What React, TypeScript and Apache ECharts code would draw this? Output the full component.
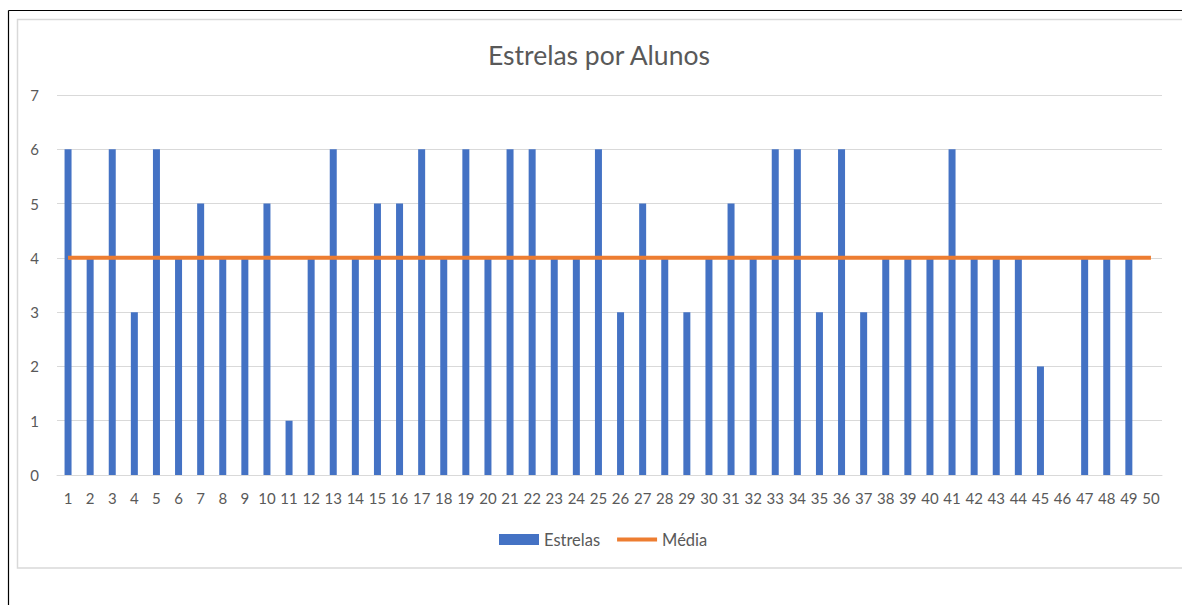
import React, { useEffect, useRef } from "react";
import * as echarts from "echarts";

const categories = [
  "1", "2", "3", "4", "5", "6", "7", "8", "9", "10",
  "11", "12", "13", "14", "15", "16", "17", "18", "19", "20",
  "21", "22", "23", "24", "25", "26", "27", "28", "29", "30",
  "31", "32", "33", "34", "35", "36", "37", "38", "39", "40",
  "41", "42", "43", "44", "45", "46", "47", "48", "49", "50",
];

const estrelas = [
  6, 4, 6, 3, 6, 4, 5, 4, 4, 5,
  1, 4, 6, 4, 5, 5, 6, 4, 6, 4,
  6, 6, 4, 4, 6, 3, 5, 4, 3, 4,
  5, 4, 6, 6, 3, 6, 3, 4, 4, 4,
  6, 4, 4, 4, 2, 0, 4, 4, 4, null,
];

const media = [
  4, 4, 4, 4, 4, 4, 4, 4, 4, 4,
  4, 4, 4, 4, 4, 4, 4, 4, 4, 4,
  4, 4, 4, 4, 4, 4, 4, 4, 4, 4,
  4, 4, 4, 4, 4, 4, 4, 4, 4, 4,
  4, 4, 4, 4, 4, 4, 4, 4, 4, 4,
];

const FONT = "Lato, 'Open Sans', sans-serif";
const TEXT = "#595959";

export default function App() {
  const ref = useRef<HTMLDivElement>(null);

  useEffect(() => {
    document.body.style.margin = "0";
    const chart = echarts.init(ref.current!, undefined, { renderer: "svg" });
    chart.setOption({
      animation: false,
      backgroundColor: "#ffffff",
      title: {
        text: "Estrelas por Alunos",
        left: 483,
        top: 36,
        textStyle: { color: TEXT, fontFamily: FONT, fontSize: 26.5, fontWeight: "normal" },
      },
      legend: {
        left: 494,
        top: 526,
        itemWidth: 40,
        itemHeight: 11,
        itemGap: 17,
        textStyle: { color: TEXT, fontFamily: FONT, fontSize: 16.5 },
        data: [
          { name: "Estrelas", icon: "rect" },
          { name: "Média", icon: "path://M0,0 H42 V4 H0 Z" },
        ],
      },
      grid: { left: 57, right: 20, top: 95, bottom: 130, containLabel: false },
      xAxis: {
        type: "category",
        data: categories,
        boundaryGap: true,
        axisLine: { lineStyle: { color: "#D9D9D9", width: 1 } },
        axisTick: { show: false },
        axisLabel: { interval: 0, color: TEXT, fontFamily: FONT, fontSize: 15, margin: 15 },
      },
      yAxis: {
        type: "value",
        min: 0,
        max: 7,
        interval: 1,
        axisLine: { show: false },
        axisTick: { show: false },
        axisLabel: { color: TEXT, fontFamily: FONT, fontSize: 15, margin: 18 },
        splitLine: { lineStyle: { color: "#D9D9D9", width: 1 } },
      },
      series: [
        {
          name: "Estrelas",
          type: "bar",
          data: estrelas,
          barWidth: 7,
          itemStyle: { color: "#4472C4" },
        },
        {
          name: "Média",
          type: "line",
          data: media,
          symbol: "none",
          lineStyle: { color: "#ED7D31", width: 4 },
          itemStyle: { color: "#ED7D31" },
        },
      ],
      graphic: [
        {
          type: "line",
          shape: { x1: 8.5, y1: 10.5, x2: 1182, y2: 10.5 },
          style: { stroke: "#000000", lineWidth: 1.2 },
          silent: true,
        },
        {
          type: "line",
          shape: { x1: 8.5, y1: 10.5, x2: 8.5, y2: 605 },
          style: { stroke: "#000000", lineWidth: 1.2 },
          silent: true,
        },
        {
          type: "rect",
          shape: { x: 17.5, y: 19.5, width: 1200, height: 548.5 },
          style: { fill: "none", stroke: "#D9D9D9", lineWidth: 1.5 },
          silent: true,
        },
      ],
    });
    return () => chart.dispose();
  }, []);

  return (
    <div
      ref={ref}
      style={{ position: "absolute", left: 0, top: 0, width: 1182, height: 605 }}
    />
  );
}
